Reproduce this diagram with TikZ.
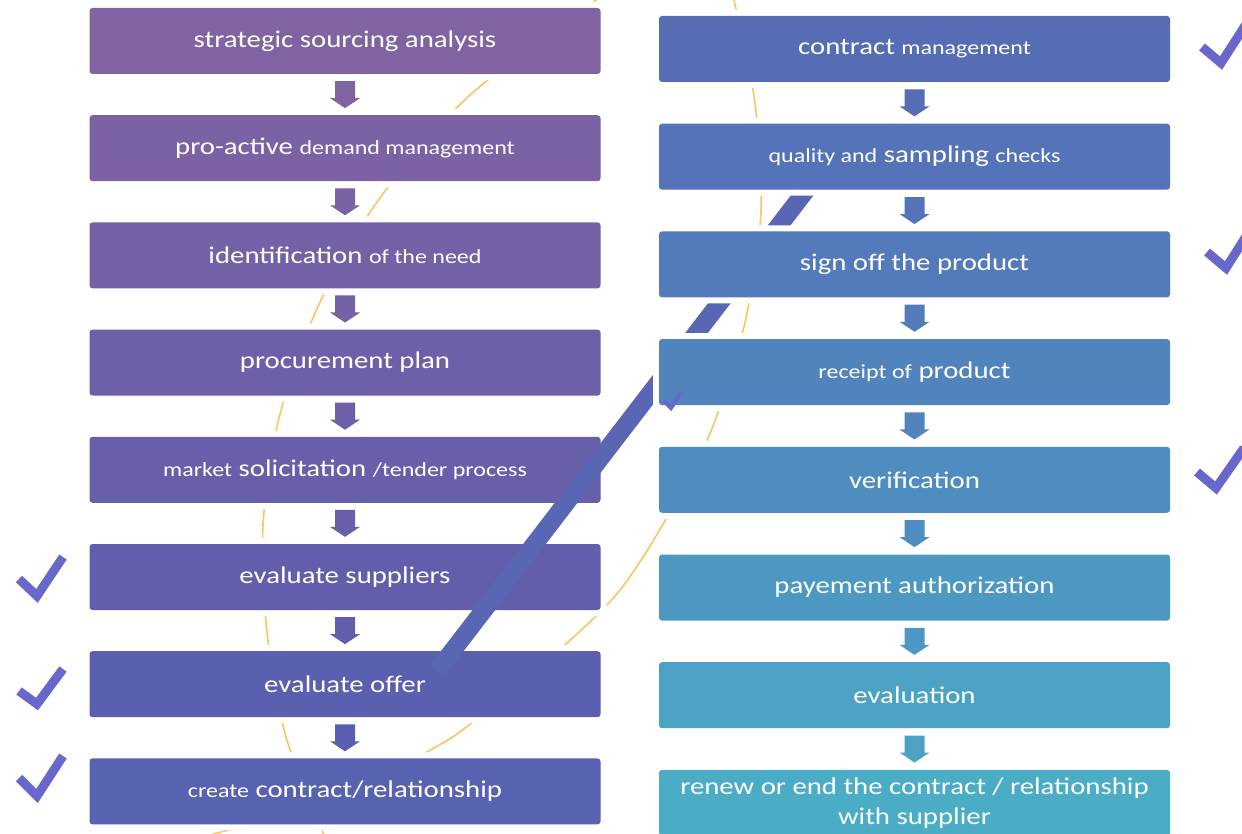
\documentclass[tikz,border=0pt]{standalone}
\usepackage{fontspec}
\setmainfont[FakeStretch=1.2]{Carlito}
\usetikzlibrary{calc,positioning}

\definecolor{boxL1}{RGB}{128,100,162}
\definecolor{boxL2}{RGB}{122,98,164}
\definecolor{boxL3}{RGB}{116,97,166}
\definecolor{boxL4}{RGB}{110,96,168}
\definecolor{boxL5}{RGB}{104,95,170}
\definecolor{boxL6}{RGB}{98,94,172}
\definecolor{boxL7}{RGB}{91,95,175}
\definecolor{boxL8}{RGB}{87,99,177}
\definecolor{boxR1}{RGB}{86,108,180}
\definecolor{boxR2}{RGB}{84,115,184}
\definecolor{boxR3}{RGB}{83,122,187}
\definecolor{boxR4}{RGB}{81,131,189}
\definecolor{boxR5}{RGB}{79,140,191}
\definecolor{boxR6}{RGB}{77,152,194}
\definecolor{boxR7}{RGB}{76,162,196}
\definecolor{boxR8}{RGB}{75,172,198}
\definecolor{tickcol}{RGB}{104,103,204}
\definecolor{stripecol}{RGB}{88,102,180}
\definecolor{ringcol}{RGB}{250,196,96}

\newcommand{\sml}{\fontsize{20}{30}\selectfont}

\tikzset{
    pics/darrow/.style={code={
        \fill[#1] (-10,-13.5) -- (10,-13.5) -- (10,3.5) -- (15,3.5) -- (0,13.5) -- (-15,3.5) -- (-10,3.5) -- cycle;
    }}
}

\begin{document}
\begin{tikzpicture}[x=1pt, y=-1pt,
    box/.style={rectangle, rounded corners=3, minimum width=511, minimum height=66, inner sep=0,
        text=white, align=center, font=\fontsize{24}{30}\selectfont,
        preaction={draw=white, line width=12}},
    tick/.style={draw=tickcol, line width=9, miter limit=4},
    ring/.style={draw=ringcol, line width=1.6},
    stripe/.style={draw=stripecol, line width=18}]
    \useasboundingbox (0,0) rectangle (1242,834);
    \clip (0,0) rectangle (1242,834);

    % background arcs
    \draw[ring] plot[smooth] coordinates {(602,-4) (470,95) (377,202) (316,311) (279,418) (263,525) (267,632) (286,737) (326,840)};
    \draw[ring] plot[smooth] coordinates {(733,-4) (755,103) (761,211) (746,318) (713,426) (666,519) (620,590) (567,643) (473,722) (427,752) (320,808) (229,830) (200,838)};

    % left column
    \foreach \i/\txt in {1/{strategic sourcing analysis},
                         2/{pro-active {\sml demand management}},
                         3/{identification {\sml of the need}},
                         4/{procurement plan},
                         5/{{\sml market} solicitation {\sml /tender process}},
                         6/{evaluate suppliers},
                         7/{evaluate offer},
                         8/{{\sml create} contract/relationship}} {
        \node[box, fill=boxL\i] (l\i) at (345, {41+107.2*(\i-1)}) {\txt};
    }
    \foreach \i [count=\j from 2] in {1,...,7} {
        \pic at ($(l\i.south)!0.5!(l\j.north)$) {darrow=boxL\i};
    }

    % big stroke behind right column
    \coordinate (sa) at (437,671);
    \coordinate (sb) at (837,150);
    \draw[stripe] (sa) -- (sb);

    % right column
    \foreach \i/\txt in {1/{contract {\sml management}},
                         2/{{\sml quality and} sampling {\sml checks}},
                         3/{sign off the product},
                         4/{{\sml receipt of} product},
                         5/{verification},
                         6/{payement authorization},
                         7/{evaluation},
                         8/{renew or end the contract / relationship\\with supplier}} {
        \node[box, fill=boxR\i] (r\i) at (914.5, {49+107.7*(\i-1)}) {\txt};
    }
    \foreach \i [count=\j from 2] in {1,...,7} {
        \pic at ($(r\i.south)!0.5!(r\j.north)$) {darrow=boxR\i};
    }

    % ticks
    \draw[tick] (19,579) -- (37,596) -- (63,557);
    \draw[tick] (19,691) -- (37,704) -- (63,669);
    \draw[tick] (19,778) -- (37,796) -- (63,756);
    \draw[tick] (1202,47) -- (1221,63) -- (1250,18);
    \draw[tick] (1207,252) -- (1226,268) -- (1250,230);
    \draw[tick] (1197,472) -- (1216,488) -- (1244,448);
    \draw[tick, line width=4] (664,401) -- (671,408) -- (682,392);
\end{tikzpicture}
\end{document}
